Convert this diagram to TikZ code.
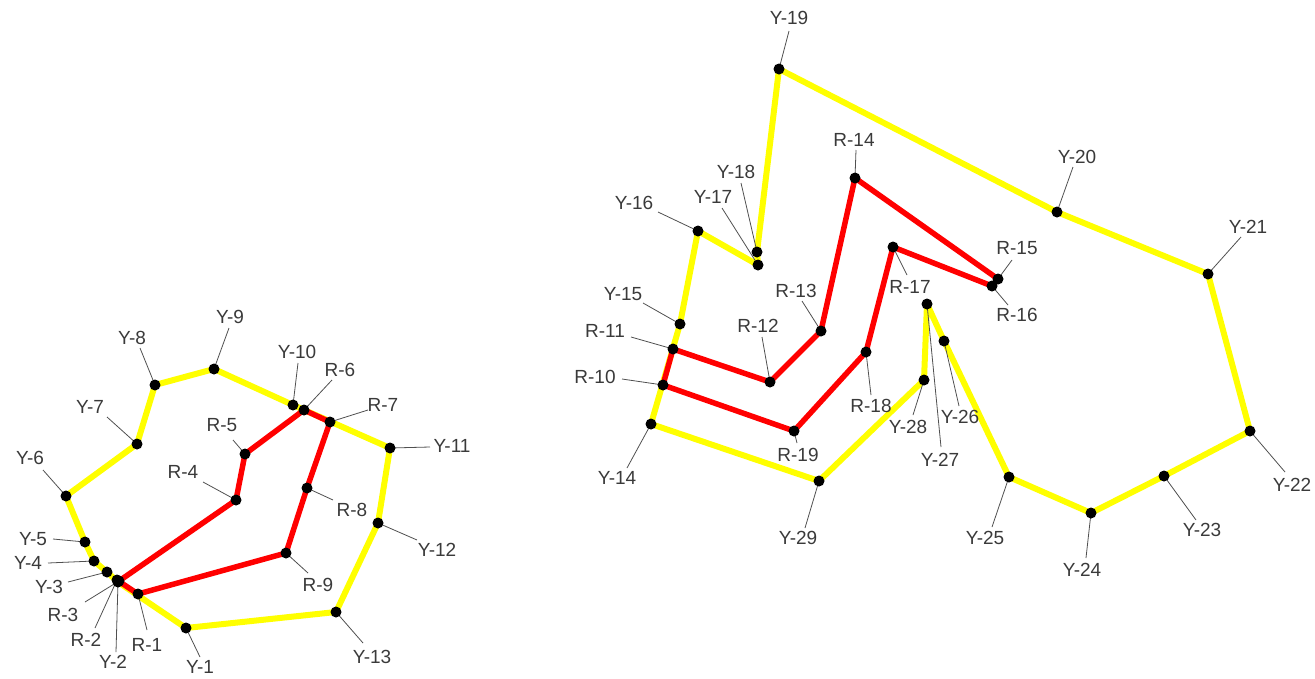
\documentclass[tikz,border=0pt]{standalone}
\usepackage{fontspec}
\setmainfont{Liberation Sans}
\definecolor{yelline}{HTML}{FFFF00}
\definecolor{redline}{HTML}{FF0000}
\definecolor{leadgray}{HTML}{505050}
\definecolor{textgray}{HTML}{3A3A3A}
\usetikzlibrary{calc}

\begin{document}
\begin{tikzpicture}[x=1pt,y=-1pt,
  yel/.style={yelline,line width=6pt,line join=round},
  rd/.style={redline,line width=5.5pt,line join=round},
  lead/.style={leadgray,line width=0.8pt},
  lbl/.style={inner sep=0pt,text=textgray,font=\fontsize{19}{22}\selectfont}]
\useasboundingbox (0,0) rectangle (1315,678);
\foreach \n/\px/\py in {Y1/186/628,Y2/118/582,Y3/107/572,Y4/94/561,Y5/85/542,Y6/66/496,Y7/137/444,
  Y8/155/385,Y9/214/369,Y10/293/405,Y11/390/448,Y12/378/523,Y13/336/612,
  R1/138/594,R2/117/580,R3/119/581,R4/236/500,R5/245/454,R6/304/410,R7/330/422,R8/307/488,R9/286/553,
  Y14/651/424,Y15/680/324,Y16/698/231,Y17/758/265,Y18/757/252,Y19/779/69,Y20/1057/212,Y21/1208/274,
  Y22/1250/431,Y23/1164/476,Y24/1091/513,Y25/1009/477,Y26/944/341,Y27/927/304,Y28/924/380,Y29/819/481,
  R10/663/385,R11/673/349,R12/770/382,R13/821/331,R14/855/178,R15/998/279,R16/992/286,R17/893/247,
  R18/866/352,R19/794/431}
  \coordinate (\n) at (\px,\py);
\draw[yel] (Y1)--(Y2)--(Y3)--(Y4)--(Y5)--(Y6)--(Y7)--(Y8)--(Y9)--(Y10)--(Y11)--(Y12)--(Y13)--cycle;
\draw[yel] (Y14)--(Y15)--(Y16)--(Y17)--(Y18)--(Y19)--(Y20)--(Y21)--(Y22)--(Y23)--(Y24)--(Y25)
  --(Y26)--(Y27)--(Y28)--(Y29)--cycle;
\draw[rd] (R1)--(R9)--(R8)--(R7)--(R6)--(R5)--(R4)--(R3)--(R2)--cycle;
\draw[rd] (R10)--(R11)--(R12)--(R13)--(R14)--(R15)--(R16)--(R17)--(R18)--(R19)--cycle;
\foreach \n/\t/\lx/\ly/\ex/\ey in {Y1/Y-1/200/667/200/657,Y2/Y-2/113/662/116/652,Y3/Y-3/49/587/68/582,
  Y4/Y-4/28/563/48/563,Y5/Y-5/33/539/53/539,Y6/Y-6/30/458/43/470,Y7/Y-7/90/407/107/417,
  Y8/Y-8/132/338/140/348,Y9/Y-9/230/317/229/328,Y10/Y-10/297/352/298/363,Y11/Y-11/452/446/430/447,
  Y12/Y-12/437/550/417/540,Y13/Y-13/372/657/363/643,R1/R-1/147/645/147/630,R2/R-2/86/640/95/628,
  R3/R-3/63/615/85/602,R4/R-4/183/472/203/482,R5/R-5/222/425/233/440,R6/R-6/340/370/332/380,
  R7/R-7/383/405/368/410,R8/R-8/352/510/333/500,R9/R-9/318/585/308/573,
  Y14/Y-14/617/478/627/468,Y15/Y-15/623/294/643/303,Y16/Y-16/634/203/658/212,Y17/Y-17/713/197/722/208,
  Y18/Y-18/736/172/741/183,Y19/Y-19/789/18/789/31,Y20/Y-20/1077/157/1073/167,Y21/Y-21/1248/227/1241/237,
  Y22/Y-22/1292/485/1285/472,Y23/Y-23/1202/530/1196/520,Y24/Y-24/1082/570/1086/558,
  Y25/Y-25/985/538/992/527,Y26/Y-26/960/417/959/406,Y27/Y-27/940/460/941/447,Y28/Y-28/908/427/913/415,
  Y29/Y-29/798/538/805/528,R10/R-10/595/377/622/379,R11/R-11/605/331/631/337,R12/R-12/758/326/762/337,
  R13/R-13/796/291/802/301,R14/R-14/854/140/856/150,R15/R-15/1017/248/1012/260,R16/R-16/1017/315/1008/305,
  R17/R-17/910/287/907/275,R18/R-18/871/406/871/395,R19/R-19/798/455/797/443}{
  \coordinate (e\n) at (\ex,\ey);
  \draw[lead] (e\n)--(\n);
  \node[lbl] (l\n) at (\lx,\ly) {\t};}
\foreach \n in {Y1,Y2,Y3,Y4,Y5,Y6,Y7,Y8,Y9,Y10,Y11,Y12,Y13,R1,R2,R3,R4,R5,R6,R7,R8,R9,
  Y14,Y15,Y16,Y17,Y18,Y19,Y20,Y21,Y22,Y23,Y24,Y25,Y26,Y27,Y28,Y29,
  R10,R11,R12,R13,R14,R15,R16,R17,R18,R19}
  \fill (\n) circle (5.5pt);
\end{tikzpicture}
\end{document}
